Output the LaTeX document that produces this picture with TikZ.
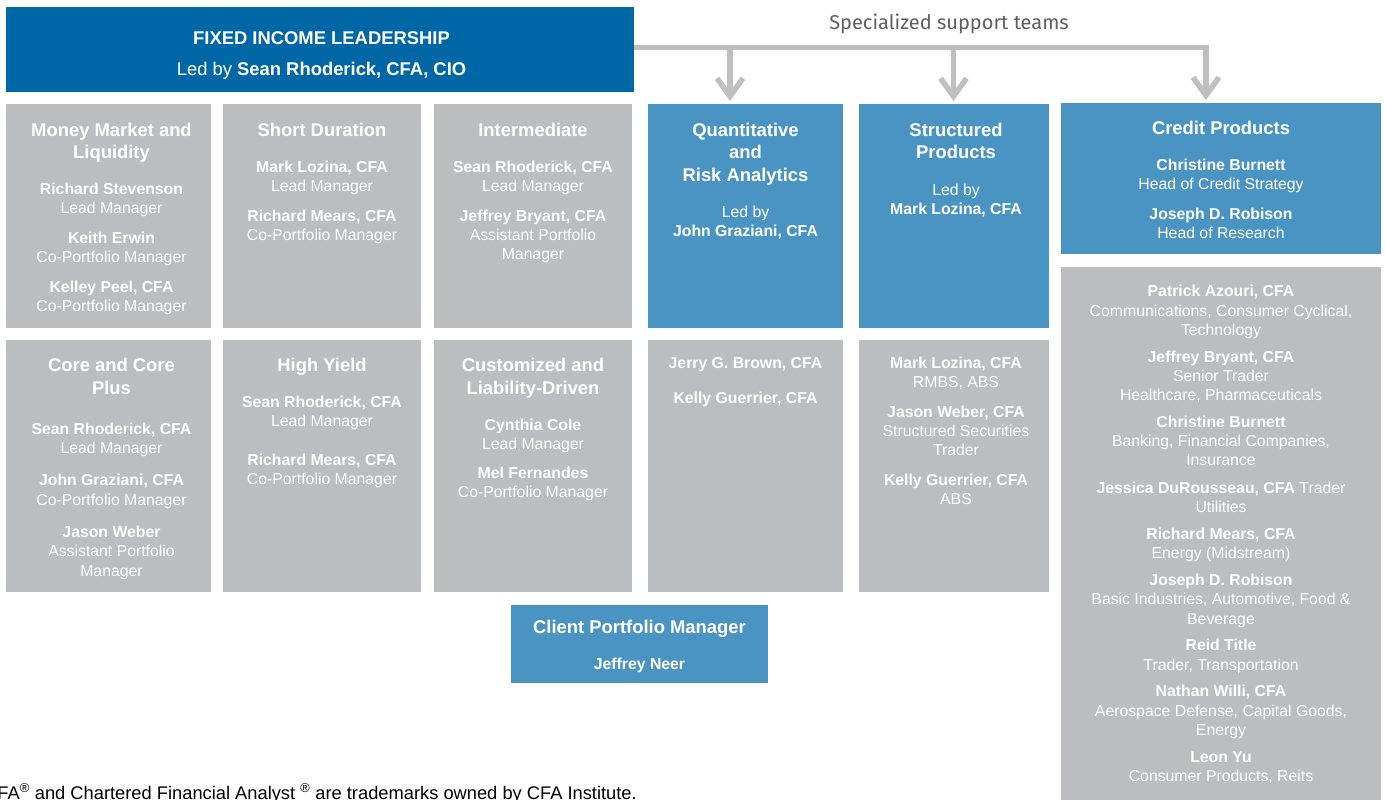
\documentclass[tikz,border=0pt]{standalone}
\usepackage{fontspec}
\setmainfont{Liberation Sans}
\newfontfamily\supfont{Fira Sans}
\usetikzlibrary{arrows.meta,fit}
\definecolor{leadblue}{HTML}{0067A6}
\definecolor{boxblue}{HTML}{4A94C4}
\definecolor{boxgray}{HTML}{BCBDC0}
\definecolor{linegray}{HTML}{BFBFBF}
\definecolor{suptext}{HTML}{5F5F5F}
\newcommand\hd[1]{{\fontsize{18.4}{22}\selectfont\bfseries #1}}
\newcommand\nm[1]{\textbf{#1}}
\begin{document}
\begin{tikzpicture}[x=1pt,y=-1pt,
  bx/.style={inner sep=0pt,outer sep=0pt,draw=none},
  leadbox/.style={bx,fill=leadblue},
  bluebox/.style={bx,fill=boxblue},
  graybox/.style={bx,fill=boxgray},
  txt/.style={inner sep=0pt,outer sep=0pt,anchor=north,align=center,text=white,
    font=\fontsize{15.8}{19}\selectfont},
  conn/.style={draw=linegray,line width=5.5pt,line join=miter},
  tip/.style={-{Straight Barb[length=18pt,width=26pt]},shorten >=3pt}]
\useasboundingbox (0,0) rectangle (1385,800);
\fill[white] (0,0) rectangle (1385,800);

% boxes
\node[leadbox,fit={(6,7) (634,92)}] (lead) {};
\node[graybox,fit={(6,104) (211,327.5)}] (mm) {};
\node[graybox,fit={(223,104) (421,327.5)}] (sd) {};
\node[graybox,fit={(434,104) (632,327.5)}] (im) {};
\node[bluebox,fit={(648,104) (843,327.5)}] (quant) {};
\node[bluebox,fit={(859,104) (1049,327.5)}] (struct) {};
\node[bluebox,fit={(1061,103) (1381,254)}] (credit) {};
\node[graybox,fit={(6,340) (211,592)}] (core) {};
\node[graybox,fit={(223,340) (421,592)}] (hy) {};
\node[graybox,fit={(434,340) (632,592)}] (cust) {};
\node[graybox,fit={(648,340) (843,592)}] (quantm) {};
\node[graybox,fit={(859,340) (1049,592)}] (structm) {};
\node[graybox,fit={(1061,267) (1381,805)}] (creditm) {};
\node[bluebox,fit={(511,605) (768,683)}] (cpm) {};

% connectors
\coordinate (j1) at (730,47.5);
\coordinate (j2) at (953.5,47.5);
\coordinate (j3) at (1206,47.5);
\draw[conn,tip] (lead.east |- j3) -- (j3) -- (j3 |- credit.north);
\draw[conn,tip] (j1) -- (j1 |- quant.north);
\draw[conn,tip] (j2) -- (j2 |- struct.north);
\node[font=\supfont\fontsize{20}{23}\selectfont,text=suptext,inner sep=0pt] (sup) at (949,24) {Specialized support teams};

% texts
\node[txt,font=\fontsize{18.4}{31}\selectfont] (leadt) at (321.5,31.4)
  {\textbf{FIXED INCOME LEADERSHIP}\\Led by \textbf{Sean Rhoderick, CFA, CIO}};

\node[txt] (mmt) at ([xshift=3pt]mm.north |- 0,123.4)
  {\hd{Money Market and}\\[3pt]\hd{Liquidity}\\[16.4pt]
   \nm{Richard Stevenson}\\Lead Manager\\[11pt]
   \nm{Keith Erwin}\\Co-Portfolio Manager\\[11pt]
   \nm{Kelley Peel, CFA}\\Co-Portfolio Manager};
\node[txt] (sdt) at (sd.north |- 0,123.4)
  {\hd{Short Duration}\\[16.4pt]
   \nm{Mark Lozina, CFA}\\Lead Manager\\[11pt]
   \nm{Richard Mears, CFA}\\Co-Portfolio Manager};
\node[txt] (imt) at (im.north |- 0,123.4)
  {\hd{Intermediate}\\[16.4pt]
   \nm{Sean Rhoderick, CFA}\\Lead Manager\\[11pt]
   \nm{Jeffrey Bryant, CFA}\\Assistant Portfolio\\Manager};
\node[txt] (quantt) at (quant.north |- 0,123.4)
  {\hd{Quantitative}\\[3pt]\hd{and}\\[4pt]\hd{Risk Analytics}\\[16.4pt]
   Led by\\\nm{John Graziani, CFA}};
\node[txt] (structt) at ([xshift=2pt]struct.north |- 0,123.4)
  {\hd{Structured}\\[3pt]\hd{Products}\\[17.4pt]
   Led by\\\nm{Mark Lozina, CFA}};
\node[txt] (creditt) at (credit.north |- 0,121.4)
  {\hd{Credit Products}\\[16.4pt]
   \nm{Christine Burnett}\\Head of Credit Strategy\\[11pt]
   \nm{Joseph D. Robison}\\Head of Research};

\node[txt] (coret) at ([xshift=3pt]core.north |- 0,358.4)
  {\hd{Core and Core}\\[4pt]\hd{Plus}\\[20.4pt]
   \nm{Sean Rhoderick, CFA}\\Lead Manager\\[13pt]
   \nm{John Graziani, CFA}\\[1pt]Co-Portfolio Manager\\[13pt]
   \nm{Jason Weber}\\Assistant Portfolio\\[1.5pt]Manager};
\node[txt] (hyt) at (hy.north |- 0,358.4)
  {\hd{High Yield}\\[16.4pt]
   \nm{Sean Rhoderick, CFA}\\Lead Manager\\[20pt]
   \nm{Richard Mears, CFA}\\Co-Portfolio Manager};
\node[txt] (custt) at (cust.north |- 0,358.4)
  {\hd{Customized and}\\[4pt]\hd{Liability-Driven}\\[16.4pt]
   \nm{Cynthia Cole}\\Lead Manager\\[10pt]
   \nm{Mel Fernandes}\\Co-Portfolio Manager};
\node[txt] (quantmt) at (quantm.north |- 0,357.3)
  {\nm{Jerry G. Brown, CFA}\\[16pt]\nm{Kelly Guerrier, CFA}};
\node[txt] (structmt) at ([xshift=2pt]structm.north |- 0,357.3)
  {\nm{Mark Lozina, CFA}\\RMBS, ABS\\[11pt]
   \nm{Jason Weber, CFA}\\Structured Securities\\Trader\\[11pt]
   \nm{Kelly Guerrier, CFA}\\ABS};
\node[txt,font=\fontsize{15.8}{19.3}\selectfont] (creditmt) at (creditm.north |- 0,285.3)
  {\nm{Patrick Azouri, CFA}\\Communications, Consumer Cyclical,\\Technology\\[7.4pt]
   \nm{Jeffrey Bryant, CFA}\\Senior Trader\\Healthcare, Pharmaceuticals\\[7.4pt]
   \nm{Christine Burnett}\\Banking, Financial Companies,\\Insurance\\[8.2pt]
   \nm{Jessica DuRousseau, CFA} Trader\\Utilities\\[7.4pt]
   \nm{Richard Mears, CFA}\\Energy (Midstream)\\[7.4pt]
   \nm{Joseph D. Robison}\\Basic Industries, Automotive, Food \&\\Beverage\\[7.4pt]
   \nm{Reid Title}\\Trader, Transportation\\[7.4pt]
   \nm{Nathan Willi, CFA}\\Aerospace Defense, Capital Goods,\\Energy\\[7.4pt]
   \nm{Leon Yu}\\Consumer Products, Reits};
\node[txt] (cpmt) at (cpm.north |- 0,620.4)
  {\hd{Client Portfolio Manager}\\[17pt]\nm{Jeffrey Neer}};

\node[anchor=base east,inner sep=0pt,text=black,font=\fontsize{18.3}{21}\selectfont] (fn) at (637,799)
  {CFA\textsuperscript{®} and Chartered Financial Analyst \textsuperscript{®} are trademarks owned by CFA Institute.};
\end{tikzpicture}
\end{document}
